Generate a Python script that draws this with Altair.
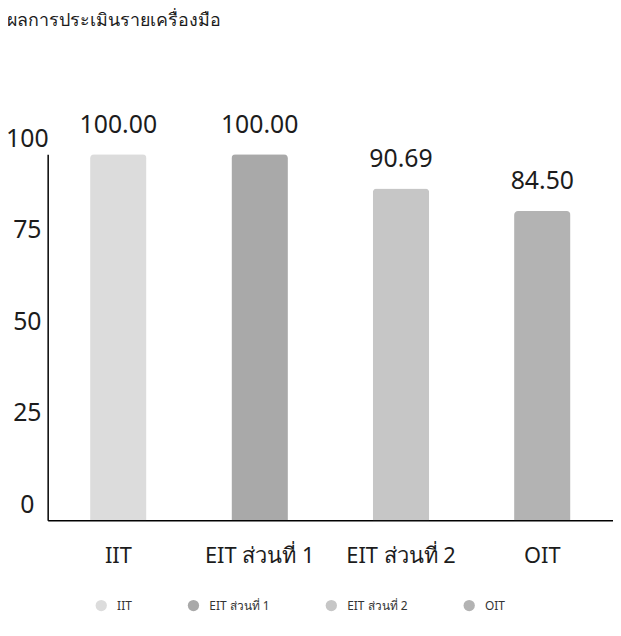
import altair as alt
import pandas as pd

categories = ["IIT", "EIT ส่วนที่ 1", "EIT ส่วนที่ 2", "OIT"]
values = [100.00, 100.00, 90.69, 84.50]
colors = ["#dcdcdc", "#a9a9a9", "#c6c6c6", "#b3b3b3"]
y_ticks = [0, 25, 50, 75, 100]
title_text = "ผลการประเมินรายเครื่องมือ"

df = pd.DataFrame({"category": categories, "value": values})

FONT = "Noto Sans"
INK = "#1c1c1c"

x_enc = alt.X(
    "category:N",
    sort=categories,
    scale=alt.Scale(paddingInner=0.6, paddingOuter=0.3),
    axis=alt.Axis(
        title=None, labelAngle=0, labelFontSize=22, labelFont=FONT, labelColor=INK,
        ticks=False, grid=False, domainColor="#000000", domainWidth=1.5, labelPadding=26,
        labelBaseline="top",
    ),
)
y_enc = alt.Y(
    "value:Q",
    scale=alt.Scale(domain=[0, 100], nice=False),
    axis=alt.Axis(
        title=None, values=y_ticks, grid=False, ticks=False, labelFontSize=25,
        labelFont=FONT, labelColor=INK, labelAlign="center", labelPadding=21,
        labelOffset=-16, labelBaseline="middle", domainColor="#000000", domainWidth=1.5,
    ),
)

bars = alt.Chart(df).mark_bar(cornerRadiusTopLeft=4, cornerRadiusTopRight=4).encode(
    x=x_enc,
    y=y_enc,
    color=alt.Color(
        "category:N",
        sort=categories,
        scale=alt.Scale(domain=categories, range=colors),
        legend=alt.Legend(
            title=None, orient="none", legendX=48, legendY=449, direction="horizontal",
            columns=4, columnPadding=56, symbolType="circle", symbolSize=130,
            symbolStrokeWidth=0, labelFontSize=12, labelFont=FONT, labelColor="#333333",
            labelOffset=10,
        ),
    ),
)

labels = alt.Chart(df).mark_text(
    baseline="alphabetic", dy=-22, fontSize=25, font=FONT, color=INK
).encode(
    x=alt.X("category:N", sort=categories),
    y=alt.Y("value:Q"),
    text=alt.Text("value:Q", format=".2f"),
)

chart = (
    alt.layer(bars, labels)
    .properties(
        width=570,
        height=369,
        background="white",
        autosize=alt.AutoSizeParams(type="none"),
        padding={"left": 40, "top": 145, "right": 0, "bottom": 100},
        title=alt.TitleParams(
            text=title_text, anchor="start", frame="group", offset=83, dx=-41,
            fontSize=18, font=FONT, fontWeight="normal", color=INK,
        ),
    )
    .configure_view(strokeWidth=0, stroke=None)
    .configure_axis(grid=False)
)

chart.save("out.html", embed_options={"renderer": "svg", "actions": False})
